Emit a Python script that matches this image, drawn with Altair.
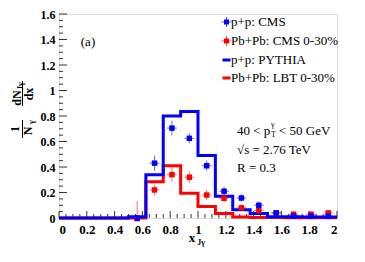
import altair as alt
import pandas as pd

# ---------------- data ----------------
edges = [0.0, 0.5, 0.625, 0.75, 0.875, 1.0, 1.125, 1.25, 1.375, 1.5, 1.625, 1.75, 1.875, 2.0]
pythia_pp = [0.0, 0.01, 0.34, 0.80, 0.835, 0.49, 0.17, 0.065, 0.035, 0.01, 0.01, 0.008, 0.008]
lbt_pbpb = [0.0, 0.0, 0.285, 0.41, 0.195, 0.09, 0.036, 0.008, 0.004, 0.003, 0.002, 0.002, 0.002]

centers = [0.5625, 0.6875, 0.8125, 0.9375, 1.0625, 1.1875, 1.3125, 1.4375, 1.5625, 1.6875, 1.8125, 1.9375]
cms_pp = [0.0, 0.43, 0.705, 0.625, 0.41, 0.21, 0.157, 0.10, 0.04, 0.015, 0.015, 0.015]
cms_pp_err = [0.02, 0.06, 0.058, 0.04, 0.04, 0.035, 0.03, 0.03, 0.02, 0.012, 0.012, 0.012]
cms_pbpb = [-0.005, 0.22, 0.34, 0.32, 0.18, 0.155, 0.08, 0.06, 0.04, 0.03, 0.03, 0.04]
cms_pbpb_err_lo = [0.015, 0.04, 0.055, 0.045, 0.04, 0.03, 0.025, 0.025, 0.02, 0.015, 0.015, 0.015]
cms_pbpb_err_hi = [0.135, 0.04, 0.055, 0.045, 0.04, 0.03, 0.025, 0.025, 0.02, 0.015, 0.015, 0.015]
x_err = 0.035

x_ticks = [0, 0.2, 0.4, 0.6, 0.8, 1.0, 1.2, 1.4, 1.6, 1.8, 2.0]
y_ticks = [0, 0.2, 0.4, 0.6, 0.8, 1.0, 1.2, 1.4, 1.6]
x_minor = [round(i * 0.05, 3) for i in range(41) if i % 4]
y_minor = [round(i * 0.05, 3) for i in range(33) if i % 4]

legend_labels = ["p+p: CMS", "Pb+Pb: CMS 0-30%", "p+p: PYTHIA", "Pb+Pb: LBT 0-30%"]

# ---------------- setup ----------------
W, H = 278, 204
BLUE, RED = "#0000ff", "#ff0000"
SERIF = "Liberation Serif"

xs = alt.Scale(domain=[0, 2], nice=False, zero=False)
ys = alt.Scale(domain=[0, 1.6], nice=False, zero=False)
xaxis = alt.Axis(values=x_ticks, format="~g", ticks=False, domain=False, grid=False,
                 labelFont=SERIF, labelFontWeight="bold", labelFontSize=13,
                 labelColor="black", labelPadding=5, labelOverlap=False, title=None)
yaxis = alt.Axis(values=y_ticks, format="~g", ticks=False, domain=False, grid=False,
                 labelFont=SERIF, labelFontWeight="bold", labelFontSize=12,
                 labelColor="black", labelPadding=4, labelOverlap=False, title=None)


def X(f):
    return alt.X(f, type="quantitative", scale=xs, axis=xaxis)


def Y(f):
    return alt.Y(f, type="quantitative", scale=ys, axis=yaxis)


def step_df(vals):
    return pd.DataFrame({"x": edges, "y": list(vals) + [vals[-1]]})


def pts_df(vals, lo, hi):
    return pd.DataFrame({
        "x": centers, "y": vals,
        "lo": [v - e for v, e in zip(vals, lo)],
        "hi": [v + e for v, e in zip(vals, hi)],
        "xl": [c - x_err for c in centers],
        "xh": [c + x_err for c in centers],
    })


layers = []

# tick marks (inside frame)
ymaj = pd.DataFrame({"v": y_ticks})
ymin = pd.DataFrame({"v": y_minor})
xmaj = pd.DataFrame({"v": x_ticks})
xmin = pd.DataFrame({"v": x_minor})
layers.append(alt.Chart(ymaj).mark_rule(color="#333", strokeWidth=1).encode(
    y=Y("v"), x=alt.value(0), x2=alt.value(8)))
layers.append(alt.Chart(ymin).mark_rule(color="#333", strokeWidth=1).encode(
    y=Y("v"), x=alt.value(0), x2=alt.value(4)))
layers.append(alt.Chart(xmaj).mark_rule(color="#333", strokeWidth=1).encode(
    x=X("v"), y=alt.value(H), y2=alt.value(H - 7)))
layers.append(alt.Chart(xmin).mark_rule(color="#333", strokeWidth=1).encode(
    x=X("v"), y=alt.value(H), y2=alt.value(H - 4)))

# step histograms
layers.append(alt.Chart(step_df(lbt_pbpb)).mark_line(
    interpolate="step-after", color=RED, strokeWidth=3).encode(x=X("x"), y=Y("y")))
layers.append(alt.Chart(step_df(pythia_pp)).mark_line(
    interpolate="step-after", color=BLUE, strokeWidth=3).encode(x=X("x"), y=Y("y")))

# data points with error bars
for df, col in [(pts_df(cms_pbpb, cms_pbpb_err_lo, cms_pbpb_err_hi), RED),
                (pts_df(cms_pp, cms_pp_err, cms_pp_err), BLUE)]:
    base = alt.Chart(df)
    layers.append(base.mark_rule(color=col, opacity=0.6, strokeWidth=1).encode(
        x=X("x"), y=Y("lo"), y2="hi"))
    layers.append(base.mark_rule(color=col, opacity=0.6, strokeWidth=1).encode(
        x=X("xl"), x2="xh", y=Y("y")))
    layers.append(base.mark_square(color=col, opacity=1, size=30).encode(
        x=X("x"), y=Y("y")))


def txt(t, x, y, size=13, weight="normal", angle=0, align="left", baseline="middle"):
    return alt.Chart(pd.DataFrame({"t": [t]})).mark_text(
        font=SERIF, fontSize=size, fontWeight=weight, angle=angle,
        align=align, baseline=baseline, color="black").encode(
        text="t:N", x=alt.value(x), y=alt.value(y))


def rule(x, x2, y, y2, col="black", w=1, op=1.0):
    return alt.Chart(pd.DataFrame({"a": [0]})).mark_rule(
        color=col, strokeWidth=w, opacity=op).encode(
        x=alt.value(x), x2=alt.value(x2), y=alt.value(y), y2=alt.value(y2))


# legend
ly = [8, 27, 46, 64]
lx = 167.5
for yy, col in [(ly[0], BLUE), (ly[1], RED)]:
    layers.append(rule(lx - 5, lx + 5, yy, yy, col, 1, 0.7))
    layers.append(rule(lx, lx, yy - 5, yy + 5, col, 1, 0.7))
    layers.append(alt.Chart(pd.DataFrame({"a": [0]})).mark_square(
        color=col, size=25, opacity=1).encode(x=alt.value(lx), y=alt.value(yy)))
layers.append(rule(lx - 4, lx + 4, ly[2], ly[2], BLUE, 3))
layers.append(rule(lx - 4, lx + 4, ly[3], ly[3], RED, 3))
for yy, lab in zip(ly, legend_labels):
    layers.append(txt(lab, 172, yy, 13))

# annotations
layers.append(txt("(a)", 29, 28, 13, align="center"))
layers.append(txt("40 < p", 178, 117, 13))
layers.append(txt("T", 212, 121, 8))
layers.append(txt("γ", 212, 111, 8))
layers.append(txt("< 50 GeV", 220, 117, 13))
layers.append(txt("√s = 2.76 TeV", 178, 136, 13))
layers.append(txt("R = 0.3", 178, 154, 13))

# x title
layers.append(txt("x", 133, 224, 13, weight="bold", align="center"))
layers.append(txt("Jγ", 142, 229, 8, weight="bold", align="center"))

# y title (rotated fraction)
layers.append(txt("dN", -42, 84, 12, weight="bold", angle=270, align="center"))
layers.append(txt("Jγ", -38, 72, 8, weight="bold", angle=270, align="center"))
layers.append(rule(-36.5, -36.5, 67, 92, "black", 1))
layers.append(txt("dx", -30, 80, 12, weight="bold", angle=270, align="center"))
layers.append(txt("1", -44, 115, 12, weight="bold", angle=270, align="center"))
layers.append(rule(-36.5, -36.5, 106, 124, "black", 1))
layers.append(txt("N", -31, 117, 12, weight="bold", angle=270, align="center"))
layers.append(txt("γ", -27, 108, 8, weight="bold", angle=270, align="center"))

chart = alt.layer(*layers).properties(
    width=W, height=H,
    autosize=alt.AutoSizeParams(type="none"),
    padding={"left": 51, "top": 6, "right": 20, "bottom": 37},
).configure_view(stroke="#333", strokeWidth=1).configure(background="white")

chart.save("out.html", embed_options={"renderer": "svg", "actions": False})
